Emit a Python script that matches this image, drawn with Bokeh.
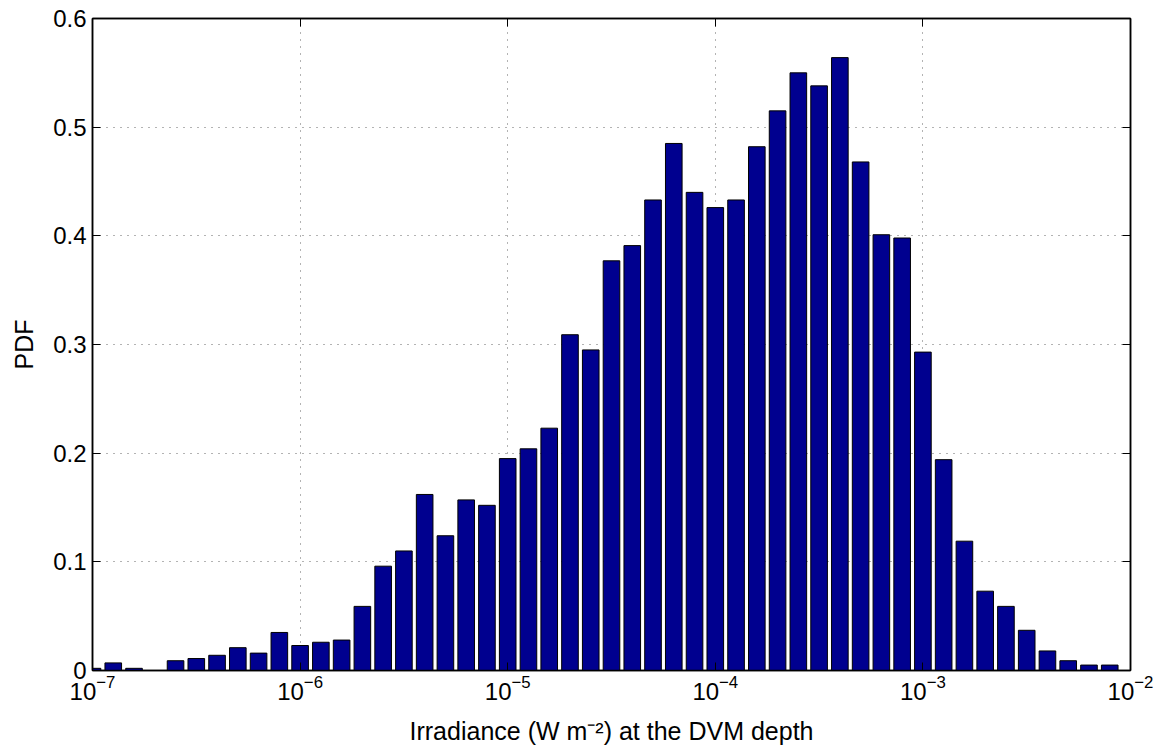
import numpy as np
from bokeh.plotting import figure
from bokeh.models import (ColumnDataSource, FixedTicker, LogAxis, LinearAxis, Range1d,
                          CustomJSTickFormatter)
from bokeh.embed import file_html
from bokeh.resources import INLINE

# bin centres in log10 (W m^-2) and PDF values
log_centers = [-7.0 + 0.1 * k for k in range(50)]
pdf = [0.002, 0.007, 0.002, 0.0, 0.009, 0.011, 0.014, 0.021, 0.016, 0.035,
       0.023, 0.026, 0.028, 0.059, 0.096, 0.110, 0.162, 0.124, 0.157, 0.152,
       0.195, 0.204, 0.223, 0.309, 0.295, 0.377, 0.391, 0.433, 0.485, 0.440,
       0.426, 0.433, 0.482, 0.515, 0.550, 0.538, 0.564, 0.468, 0.401, 0.398,
       0.293, 0.194, 0.119, 0.073, 0.059, 0.037, 0.018, 0.009, 0.005, 0.005]
x_ticks = [1e-7, 1e-6, 1e-5, 1e-4, 1e-3, 1e-2]
y_ticks = [0, 0.1, 0.2, 0.3, 0.4, 0.5, 0.6]

half = 0.04
src = ColumnDataSource(dict(
    left=[10 ** (c - half) for c in log_centers],
    right=[10 ** (c + half) for c in log_centers],
    top=pdf,
    bottom=[0.0] * len(pdf),
))

FONT = "Liberation Sans"
p = figure(width=1159, height=753, x_axis_type="log",
           x_range=Range1d(1e-7, 1e-2), y_range=Range1d(0, 0.6),
           output_backend="svg", toolbar_location=None,
           min_border_left=92, min_border_right=29, min_border_top=18,
           min_border_bottom=83)
p.outline_line_color = "black"
p.outline_line_width = 1.5

p.quad(left="left", right="right", top="top", bottom="bottom", source=src,
       fill_color="#00008F", line_color="black", line_width=1)

xa = p.xaxis[0]
xa.ticker = FixedTicker(ticks=x_ticks)
ya = p.yaxis[0]
ya.ticker = FixedTicker(ticks=y_ticks)
ya.formatter = CustomJSTickFormatter(code="return tick == 0 ? '0' : tick.toFixed(1);")

for ax in (xa, ya):
    ax.major_tick_in = 8
    ax.major_tick_out = 0
    ax.minor_tick_in = 0
    ax.minor_tick_out = 0
    ax.axis_line_color = "black"
    ax.axis_line_width = 1.5
    ax.major_tick_line_color = "black"
    ax.major_label_text_font = FONT
    ax.major_label_text_font_size = "24px"
    ax.major_label_text_color = "black"
    ax.axis_label_text_font = FONT
    ax.axis_label_text_font_size = "25px"
    ax.axis_label_text_font_style = "normal"
    ax.axis_label_text_color = "black"
xa.axis_label = "Irradiance (W m\u207b\u00b2) at the DVM depth"
ya.axis_label = "PDF"
xa.axis_label_standoff = 14
ya.axis_label_standoff = 12
xa.major_label_standoff = 4
ya.major_label_standoff = 6

# mirrored tick axes (box)
top_ax = LogAxis(ticker=FixedTicker(ticks=x_ticks),
                 formatter=CustomJSTickFormatter(code="return '';"),
                 major_label_text_font_size="1px", major_label_standoff=0,
                 major_tick_in=8, major_tick_out=0,
                 minor_tick_in=0, minor_tick_out=0, axis_line_color="black",
                 axis_line_width=1.5)
right_ax = LinearAxis(ticker=FixedTicker(ticks=y_ticks),
                      formatter=CustomJSTickFormatter(code="return '';"),
                      major_label_text_font_size="1px", major_label_standoff=0,
                      major_tick_in=8, major_tick_out=0,
                      minor_tick_in=0, minor_tick_out=0, axis_line_color="black",
                      axis_line_width=1.5)
p.add_layout(top_ax, "above")
p.add_layout(right_ax, "right")

for g in (p.xgrid[0], p.ygrid[0]):
    g.grid_line_color = "#666666"
    g.grid_line_dash = "1 6"
    g.grid_line_width = 1
p.xgrid[0].ticker = FixedTicker(ticks=x_ticks)
p.ygrid[0].ticker = FixedTicker(ticks=y_ticks)

open("out.html", "w").write(file_html(p, INLINE))
